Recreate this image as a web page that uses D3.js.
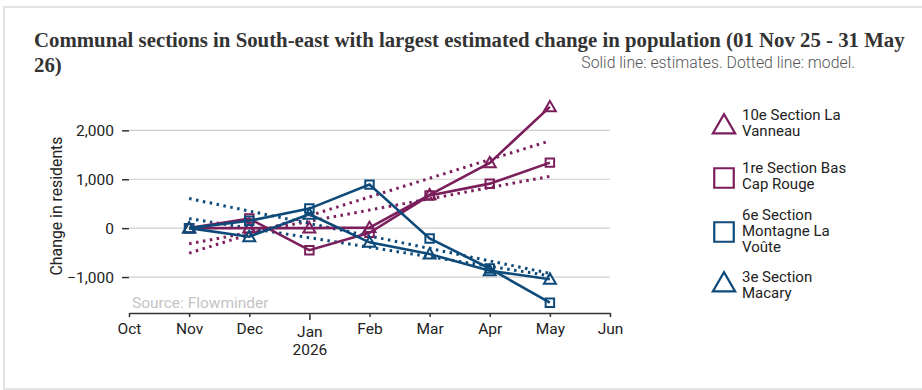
<!DOCTYPE html>
<html>
<head>
<meta charset="utf-8">
<script src="https://cdn.jsdelivr.net/npm/d3@7"></script>
<style>
  body { margin: 0; background: #fff; }
  svg { display: block; }
</style>
</head>
<body>
<div id="chart"></div>
<script>
// données
const months = ["Oct", "Nov", "Dec", "Jan", "Feb", "Mar", "Apr", "May", "Jun"];
const dataMonths = ["Nov", "Dec", "Jan", "Feb", "Mar", "Apr", "May"];
const seriesNames = ["10e Section La Vanneau", "1re Section Bas Cap Rouge", "6e Section Montagne La Voûte", "3e Section Macary"];
const seriesShapes = ["triangle", "square", "square", "triangle"];
const seriesColors = ["#7b1f5c", "#7b1f5c", "#0d4a79", "#0d4a79"];
const valVanneau = [0, 0, 0, 10, 680, 1335, 2480];
const valCapRouge = [0, 195, -450, -95, 670, 910, 1340];
const valVoute = [0, 150, 400, 890, -210, -825, -1525];
const valMacary = [0, -175, 285, -290, -530, -870, -1045];
// modèle : valeur en Nov et en May
const modelVanneau = [-510, 1785];
const modelCapRouge = [-320, 1060];
const modelVoute = [605, -925];
const modelMacary = [195, -975];
const yTicks = [-1000, 0, 1000, 2000];

const values = [valVanneau, valCapRouge, valVoute, valMacary];
const models = [modelVanneau, modelCapRouge, modelVoute, modelMacary];

//---------------------------------------------------------------------------------------

const W = 922, H = 390;
const svg = d3.select("#chart").append("svg").attr("width", W).attr("height", H)
  .style("font-family", "Roboto, sans-serif");

// cadre
svg.append("rect")
  .attr("x", 4).attr("y", 7).attr("width", W + 10).attr("height", 382)
  .attr("fill", "none").attr("stroke", "#e3e3e3").attr("stroke-width", 2);

// titraille
const title = svg.append("text")
  .attr("font-family", "'Liberation Serif', serif")
  .attr("font-weight", "bold")
  .attr("font-size", 20.8)
  .attr("fill", "#333");
title.append("tspan").attr("x", 34).attr("y", 47)
  .text("Communal sections in South-east with largest estimated change in population (01 Nov 25 - 31 May");
title.append("tspan").attr("x", 34).attr("y", 72).text("26)");

svg.append("text")
  .attr("x", 855).attr("y", 68)
  .attr("text-anchor", "end")
  .attr("font-size", 15.8)
  .attr("font-weight", 300)
  .attr("fill", "#555")
  .text("Solid line: estimates. Dotted line: model.");

//---------------------------------------------------------------------------------------

// échelles
const x = d3.scalePoint().domain(months).range([129, 610]);
const y = d3.scaleLinear().domain([-1735, 2600]).range([313, 101]);

const plot = svg.append("g");

// grille
plot.append("g")
  .selectAll("line")
  .data(yTicks)
  .join("line")
  .attr("x1", 129).attr("x2", 610)
  .attr("y1", d => y(d)).attr("y2", d => y(d))
  .attr("stroke", "#cfcfcf").attr("stroke-width", 1.2);

// axe y
const yAxis = plot.append("g")
  .attr("transform", "translate(129,0)")
  .call(d3.axisLeft(y).tickValues(yTicks).tickSize(7).tickPadding(8).tickFormat(d3.format(",")));
yAxis.select(".domain").remove();
yAxis.selectAll("line").attr("stroke", "#333").attr("stroke-width", 1.5);
yAxis.selectAll("text").attr("font-size", 15.5).attr("fill", "#222").attr("font-family", "Roboto, sans-serif");

svg.append("text")
  .attr("transform", "translate(62,206) rotate(-90)")
  .attr("text-anchor", "middle")
  .attr("font-size", 15.8)
  .attr("fill", "#222")
  .text("Change in residents");

// source
svg.append("text")
  .attr("x", 132).attr("y", 308)
  .attr("font-size", 15.5)
  .attr("fill", "#c4c4c4")
  .text("Source: Flowminder");

// axe x
const xAxis = plot.append("g")
  .attr("transform", "translate(0,313)")
  .call(d3.axisBottom(x).tickSize(4).tickPadding(6).tickSizeOuter(0));
xAxis.select(".domain").attr("stroke", "#333").attr("stroke-width", 1.5);
xAxis.selectAll("line").attr("stroke", "#333").attr("stroke-width", 1.5)
  .attr("y2", d => d === "Jan" ? 7 : 4);
xAxis.selectAll("text").attr("font-size", 15.5).attr("fill", "#222").attr("font-family", "Roboto, sans-serif")
  .attr("y", d => d === "Jan" ? 13 : 10);
xAxis.selectAll(".tick").filter(d => d === "Jan").append("text")
  .attr("y", 31).attr("dy", "0.71em")
  .attr("text-anchor", "middle")
  .attr("font-size", 15.5).attr("fill", "#222").attr("font-family", "Roboto, sans-serif")
  .text("2026");

//---------------------------------------------------------------------------------------

// lignes
const line = d3.line().x((d, i) => x(dataMonths[i])).y(d => y(d));

const symTri = d3.symbol().type(d3.symbolTriangle).size(62);
const symSq = d3.symbol().type(d3.symbolSquare).size(72);

// modèle (pointillés)
models.forEach((m, k) => {
  plot.append("line")
    .attr("x1", x("Nov")).attr("x2", x("May"))
    .attr("y1", y(m[0])).attr("y2", y(m[1]))
    .attr("stroke", seriesColors[k])
    .attr("stroke-width", 3)
    .attr("stroke-dasharray", "2.5,4.5");
});

// estimations
values.forEach((v, k) => {
  const g = plot.append("g");
  g.append("path")
    .datum(v)
    .attr("d", line)
    .attr("fill", "none")
    .attr("stroke", seriesColors[k])
    .attr("stroke-width", 2.6);
  g.selectAll("path.mk")
    .data(v)
    .join("path")
    .attr("class", "mk")
    .attr("transform", (d, i) => `translate(${x(dataMonths[i])},${y(d) + (seriesShapes[k] === "triangle" ? 1 : 0)})`)
    .attr("d", seriesShapes[k] === "triangle" ? symTri : symSq)
    .attr("fill", "none")
    .attr("stroke", seriesColors[k])
    .attr("stroke-width", 2);
});

//---------------------------------------------------------------------------------------

// légende
const legendLines = [
  ["10e Section La", "Vanneau"],
  ["1re Section Bas", "Cap Rouge"],
  ["6e Section", "Montagne La", "Voûte"],
  ["3e Section", "Macary"],
];
const legendSymY = [127, 178, 232, 285];
const legendTextY = [120, 173, 220, 282];
const legSym = d3.symbol().type(d3.symbolTriangle).size(215);
const legSq = d3.symbol().type(d3.symbolSquare).size(380);

const legend = svg.append("g");
seriesNames.forEach((name, k) => {
  legend.append("path")
    .attr("transform", `translate(724,${legendSymY[k]})`)
    .attr("d", seriesShapes[k] === "triangle" ? legSym : legSq)
    .attr("fill", "none")
    .attr("stroke", seriesColors[k])
    .attr("stroke-width", 2.2);
  const t = legend.append("text")
    .attr("font-size", 15)
    .attr("fill", "#222");
  legendLines[k].forEach((s, j) => {
    t.append("tspan")
      .attr("x", 742)
      .attr("y", legendTextY[k] + j * 16)
      .text(s);
  });
});
</script>
</body>
</html>
